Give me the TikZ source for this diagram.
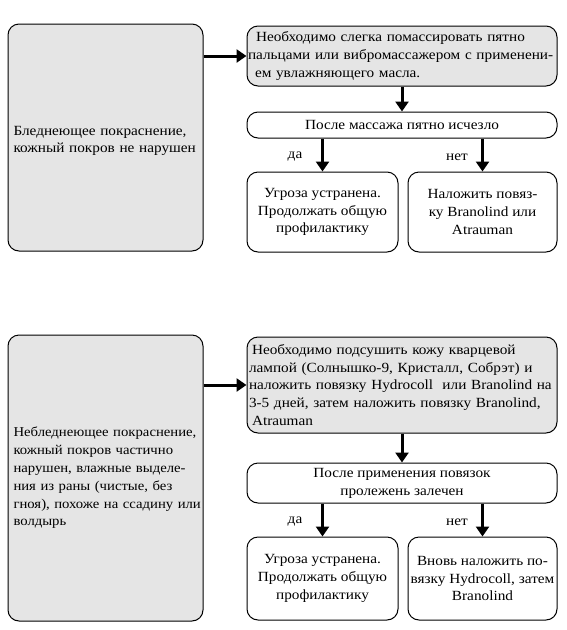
\documentclass[tikz,border=0pt]{standalone}
\usepackage{fontspec}
\setmainfont[FakeStretch=1.09]{Liberation Serif}
\usetikzlibrary{arrows.meta}
\newcommand{\oneline}[2][0pt]{\mbox{\hspace*{#1}#2}}
\tikzset{
  box/.style={draw=black, line width=1pt, rounded corners=11pt, inner ysep=0pt, inner xsep=3pt,
    font=\fontsize{14}{17.8}\selectfont},
  graybox/.style={box, fill=black!10},
  arr/.style={line width=3pt, -{Triangle[width=13pt,length=10pt]}},
  lbl/.style={font=\fontsize{14}{17.8}\selectfont, inner sep=0pt}
}
\begin{document}
\begin{tikzpicture}[x=1pt,y=-1pt]
\useasboundingbox (0,0) rectangle (566,630);
% top section
\node[graybox, text width=190pt, inner xsep=2.5pt, minimum height=227pt, align=left] (L1) at (105.5,137.5)
  {\rule{0pt}{16pt}\oneline[3pt]{Бледнеющее покраснение,}\\\oneline[3pt]{кожный покров не нарушен}};
\node[graybox, text width=310pt, inner xsep=0pt, minimum height=60pt, align=left] (G1) at (402,56)
  {\oneline[9pt]{Необходимо слегка помассировать пятно}\\\oneline[1pt]{пальцами или вибромассажером с применени-}\\\oneline[8pt]{ем увлажняющего масла.}};
\node[box, minimum width=310pt, minimum height=26pt, align=center] (Q1) at (402,125)
  {После массажа пятно исчезло};
\node[box, minimum width=151pt, minimum height=80pt, align=center] (Y1) at (322.5,212)
  {Угроза устранена.\\Продолжать общую\\профилактику};
\node[box, minimum width=149pt, minimum height=80pt, align=center] (N1) at (482.5,212)
  {Наложить повяз-\\ку Branolind или\\Atrauman};
\draw[arr] (L1.east |- G1.west) -- (G1.west);
\draw[arr] (G1.south) -- (Q1.north);
\draw[arr] (Y1.north |- Q1.south) -- (Y1.north);
\draw[arr] (N1.north |- Q1.south) -- (N1.north);
\node[lbl] (da1) at (295,157) {да};
\node[lbl] (net1) at (457,157) {нет};
% bottom section
\node[graybox, text width=190pt, inner xsep=2.5pt, minimum height=286pt, align=left,
      font=\fontsize{13.5}{17.8}\selectfont] (L2) at (105.5,478)
  {\oneline[3pt]{Небледнеющее покраснение,}\\\oneline[3pt]{кожный покров частично}\\\oneline[3pt]{нарушен, влажные выделе-}\\\oneline[3pt]{ния из раны (чистые, без}\\\oneline[3pt]{гноя), похоже на ссадину или}\\\oneline[3pt]{волдырь}};
\node[graybox, text width=306pt, inner xsep=2pt, minimum height=96pt, align=left] (G2) at (402,385)
  {\oneline[3pt]{Необходимо подсушить кожу кварцевой}\\\oneline{лампой (Солнышко-9, Кристалл, Собрэт) и}\\\oneline{наложить повязку Hydrocoll\ \ или Branolind на}\\\oneline{3-5 дней, затем наложить повязку Branolind,}\\\oneline[3pt]{Atrauman}};
\node[box, minimum width=310pt, minimum height=40pt, align=center] (Q2) at (402,483)
  {После применения повязок\\пролежень залечен};
\node[box, minimum width=151pt, minimum height=83pt, align=center] (Y2) at (322.5,578.5)
  {Угроза устранена.\\Продолжать общую\\профилактику};
\node[box, minimum width=149pt, minimum height=83pt, inner xsep=0pt, align=center] (N2) at (482.5,578.5)
  {Вновь наложить по-\\вязку Hydrocoll, затем\\Branolind};
\draw[arr] (L2.east |- G2.west) -- (G2.west);
\draw[arr] (G2.south) -- (Q2.north);
\draw[arr] (Y2.north |- Q2.south) -- (Y2.north);
\draw[arr] (N2.north |- Q2.south) -- (N2.north);
\node[lbl] (da2) at (295,522) {да};
\node[lbl] (net2) at (457,522) {нет};
\end{tikzpicture}
\end{document}
